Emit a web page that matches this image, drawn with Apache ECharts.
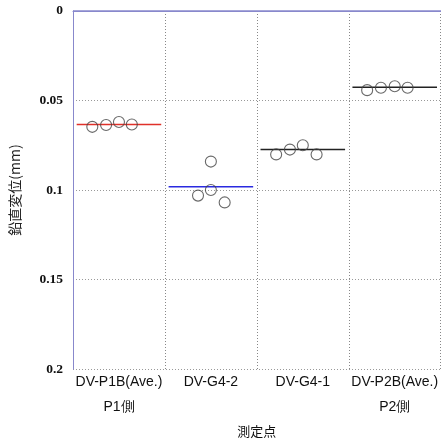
<!DOCTYPE html>
<html><head><meta charset="utf-8">
<script src="https://cdn.jsdelivr.net/npm/echarts@6/dist/echarts.min.js"></script>
<style>html,body{margin:0;padding:0;background:#fff}#c{width:441px;height:443px}</style>
</head><body><div id="c"></div>
<script>
const categories = ['DV-P1B(Ave.)', 'DV-G4-2', 'DV-G4-1', 'DV-P2B(Ave.)'];
const sideLabels = ['P1側', '', '', 'P2側'];
const xAxisTitle = '測定点';
const yAxisTitle = '鉛直変位(mm)';
const yTicks = [0, 0.05, 0.1, 0.15, 0.2];
// measured points per category: [x offset within category (category units), value]
const p1bPoints = [[-0.29, 0.0647], [-0.14, 0.0637], [0.0, 0.0620], [0.14, 0.0634]];
const g42Points = [[-0.14, 0.1031], [0.0, 0.0841], [0.0, 0.1000], [0.15, 0.1069]];
const g41Points = [[-0.29, 0.0801], [-0.14, 0.0774], [0.0, 0.0750], [0.15, 0.0801]];
const p2bPoints = [[-0.30, 0.0442], [-0.15, 0.0429], [0.0, 0.0420], [0.14, 0.0429]];
const meanValues = [0.0634, 0.0982, 0.0774, 0.0426];
const meanColors = ['#e0312a', '#2a2ae0', '#222222', '#222222'];

const allPoints = [p1bPoints, g42Points, g41Points, p2bPoints];
const scatterData = [];
allPoints.forEach((pts, i) => pts.forEach(p => scatterData.push([i + 0.5 + p[0], p[1]])));

const series = [];
meanValues.forEach((v, i) => {
  series.push({
    type: 'line', xAxisIndex: 1, data: [[i + 0.04, v], [i + 0.96, v]], symbol: 'none',
    lineStyle: { color: meanColors[i], width: 1.5 }, z: 3
  });
});
series.push({
  type: 'scatter', xAxisIndex: 1, data: scatterData, symbol: 'circle', symbolSize: 11,
  itemStyle: { color: 'rgba(255,255,255,0)', borderColor: '#444', borderWidth: 1.1 }, z: 5
});

const chart = echarts.init(document.getElementById('c'));
chart.setOption({
  animation: false,
  grid: { left: 73, top: 11, right: -1, bottom: 64 },
  xAxis: [{
    type: 'category', data: categories, position: 'bottom',
    axisLine: { lineStyle: { color: '#8888cc', width: 1 } },
    axisTick: { show: false },
    axisLabel: {
      interval: 0, margin: 1, color: '#111', fontFamily: 'Liberation Sans', fontSize: 14,
      lineHeight: 25,
      formatter: (v, i) => sideLabels[i] ? v + '\n' + sideLabels[i] : v
    },
    splitLine: { show: true, interval: 0, lineStyle: { color: '#888', type: [1, 2] } },
    name: xAxisTitle, nameLocation: 'middle', nameGap: 54,
    nameTextStyle: { fontFamily: 'Noto Sans CJK JP', fontSize: 13, color: '#111' }
  }, {
    type: 'value', min: 0, max: 4, show: false, position: 'top'
  }],
  yAxis: [{
    type: 'value', inverse: true, min: yTicks[0], max: yTicks[yTicks.length - 1], interval: 0.05,
    axisLine: { show: true, lineStyle: { color: '#8888cc', width: 1 } },
    axisTick: { show: false },
    axisLabel: { color: '#111', fontFamily: 'Liberation Serif', fontSize: 13.5, fontWeight: 'bold', margin: 10,
      formatter: v => String(+v.toFixed(2)) },
    splitLine: { show: true, lineStyle: { color: '#999', type: [1, 2] } },
    name: yAxisTitle, nameLocation: 'middle', nameGap: 51, nameRotate: 90,
    nameTextStyle: { fontFamily: 'Noto Sans CJK JP', fontSize: 14, color: '#222' }
  }],
  graphic: [{
    type: 'line', shape: { x1: 73, y1: 11, x2: 442, y2: 11 },
    style: { stroke: '#8888cc', lineWidth: 1.5 }, z: 10
  }],
  series: series
});
</script></body></html>
